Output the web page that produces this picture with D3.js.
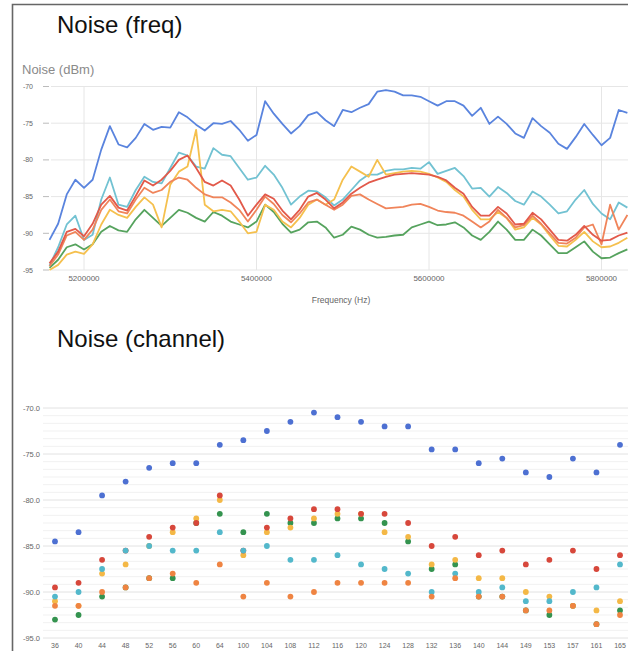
<!DOCTYPE html>
<html>
<head>
<meta charset="utf-8">
<script src="https://cdn.jsdelivr.net/npm/d3@7/dist/d3.min.js"></script>
<style>
  html, body { margin: 0; padding: 0; background: #fff; }
  svg { display: block; font-family: "Liberation Sans", Arial, Helvetica, sans-serif; }
</style>
</head>
<body>
<svg id="chart" width="628" height="651"></svg>
<script>
// ---- Noise (freq): sampled frequencies (Hz) ----
const freqs = [
  5160000, 5170000, 5180000, 5190000, 5200000, 5210000, 5220000, 5230000, 5240000, 5250000,
  5260000, 5270000, 5280000, 5290000, 5300000, 5310000, 5320000, 5330000, 5340000, 5350000,
  5360000, 5370000, 5380000, 5390000, 5400000, 5410000, 5420000, 5430000, 5440000, 5450000,
  5460000, 5470000, 5480000, 5490000, 5500000, 5510000, 5520000, 5530000, 5540000, 5550000,
  5560000, 5570000, 5580000, 5590000, 5600000, 5610000, 5620000, 5630000, 5640000, 5650000,
  5660000, 5670000, 5680000, 5690000, 5700000, 5710000, 5720000, 5730000, 5740000, 5750000,
  5760000, 5770000, 5780000, 5790000, 5800000, 5810000, 5820000, 5830000
];

// noise level per sampled frequency (dBm)
const freqBlue = [
  -90.9, -88.7, -84.7, -82.7, -83.8, -82.7, -78.6, -75.4, -77.9, -78.3,
  -77.0, -75.1, -75.9, -75.5, -75.6, -73.5, -74.2, -75.2, -76.0, -75.0,
  -75.1, -74.7, -75.9, -77.4, -76.6, -72.0, -73.7, -75.1, -76.4, -75.4,
  -73.9, -73.5, -74.6, -75.4, -73.2, -73.5, -72.9, -72.4, -70.7, -70.5,
  -70.7, -71.2, -71.2, -71.4, -72.0, -72.6, -72.0, -72.0, -72.6, -74.0,
  -72.9, -75.1, -74.1, -75.1, -76.4, -77.0, -74.3, -75.4, -76.3, -77.8,
  -78.5, -76.9, -75.1, -76.6, -78.0, -77.0, -73.2, -73.6
];
const freqTeal = [
  -94.4, -91.9, -88.8, -87.6, -90.9, -90.2, -85.4, -82.4, -86.1, -86.4,
  -84.1, -82.3, -83.0, -83.2, -81.1, -79.0, -79.4, -80.9, -81.2, -78.4,
  -79.3, -79.5, -81.1, -82.7, -82.4, -80.8, -82.0, -83.8, -86.1, -85.0,
  -84.2, -84.3, -85.1, -86.2, -85.4, -84.1, -82.8, -82.0, -82.0, -81.5,
  -81.3, -81.3, -81.1, -81.2, -80.3, -81.9, -81.5, -81.1, -82.2, -83.9,
  -83.8, -85.0, -83.7, -84.5, -85.6, -86.1, -84.3, -85.0, -86.1, -87.3,
  -87.0, -85.4, -84.1, -86.0, -87.3, -88.1, -85.8, -86.5
];
const freqRed = [
  -94.1, -92.5, -89.8, -89.4, -90.4, -88.7, -86.1, -84.9, -86.5, -86.9,
  -84.9, -82.8, -83.5, -82.7, -81.5, -80.0, -79.4, -81.1, -83.0, -83.5,
  -82.8, -83.5, -85.4, -87.6, -86.1, -84.7, -85.3, -86.9, -88.1, -86.8,
  -85.0, -84.5, -85.4, -86.6, -85.8, -84.6, -83.8, -83.1, -82.7, -82.3,
  -82.0, -81.9, -81.8, -81.9, -82.0, -82.3, -82.8, -83.8, -84.6, -86.4,
  -87.6, -87.6, -86.4, -87.3, -88.8, -88.7, -87.2, -88.1, -89.5, -90.9,
  -91.0, -90.2, -89.0, -90.2, -91.0, -90.9, -90.3, -89.9
];
const freqOrange = [
  -94.5, -92.9, -90.3, -89.8, -90.9, -89.5, -86.8, -85.4, -87.0, -87.3,
  -85.4, -83.8, -84.5, -84.1, -83.0, -82.4, -82.7, -83.8, -84.7, -85.1,
  -85.1, -85.8, -86.8, -88.4, -86.8, -85.0, -86.0, -87.5, -88.5, -87.3,
  -85.8, -85.4, -86.1, -86.8, -86.1, -84.9, -84.7, -85.4, -86.0, -86.6,
  -86.5, -86.4, -86.1, -86.0, -86.4, -86.9, -87.1, -87.2, -87.6, -88.4,
  -89.2, -88.4, -86.8, -87.9, -89.2, -88.9, -87.6, -88.7, -90.0, -91.3,
  -91.4, -90.6, -89.2, -88.8, -91.5, -86.1, -89.5, -87.5
];
const freqYellow = [
  -95.0, -94.3, -92.9, -92.5, -92.8, -91.5, -88.8, -86.8, -87.5, -87.9,
  -86.4, -85.1, -86.1, -89.2, -83.4, -81.6, -80.9, -75.9, -86.1, -87.0,
  -86.8, -87.0, -88.4, -90.0, -89.8, -86.1, -86.8, -88.4, -89.2, -87.9,
  -86.1, -85.4, -86.1, -85.4, -82.7, -80.9, -81.6, -82.3, -80.0, -82.0,
  -81.8, -81.6, -81.5, -81.6, -81.9, -82.4, -83.0, -84.1, -85.0, -86.8,
  -88.1, -88.1, -87.1, -87.9, -89.5, -89.2, -87.9, -88.8, -90.3, -91.7,
  -91.8, -90.9, -89.8, -91.1, -91.9, -91.8, -91.3, -90.6
];
const freqGreen = [
  -94.7, -93.6, -91.9, -91.5, -92.2, -91.5, -89.8, -89.0, -89.6, -89.8,
  -88.1, -86.8, -87.9, -89.0, -87.9, -86.8, -87.2, -87.9, -88.4, -87.1,
  -87.6, -88.4, -88.8, -89.2, -88.4, -86.1, -87.1, -88.7, -89.9, -89.5,
  -88.5, -88.4, -89.2, -90.6, -90.2, -89.1, -89.5, -90.2, -90.6, -90.5,
  -90.3, -90.2, -89.2, -88.8, -88.4, -88.9, -88.8, -88.5, -89.2, -90.3,
  -90.9, -89.8, -88.4, -89.5, -90.9, -90.9, -89.5, -90.3, -91.5, -92.7,
  -92.7, -91.9, -91.1, -92.5, -93.4, -93.3, -92.7, -92.2
];
const freqTicks = [5200000, 5400000, 5600000, 5800000];
const dbmTicksFreq = [-70, -75, -80, -85, -90, -95];

// ---- Noise (channel) ----
const channels = [36, 40, 44, 48, 52, 56, 60, 64, 100, 104, 108, 112, 116, 120, 124, 128, 132, 136, 140, 144, 149, 153, 157, 161, 165];
const chBlue   = [-84.5, -83.5, -79.5, -78.0, -76.5, -76.0, -76.0, -74.0, -73.5, -72.5, -71.5, -70.5, -71.0, -71.5, -72.0, -72.0, -74.5, -74.5, -76.0, -75.5, -77.0, -77.5, -75.5, -77.0, -74.0];
const chGreen  = [-93.0, -92.5, -90.5, -89.5, -88.5, -88.5, -82.5, -81.5, -83.5, -81.5, -82.5, -82.5, -82.0, -82.0, -82.5, -84.5, -87.5, -87.0, -90.5, -90.5, -92.0, -92.5, -91.5, -93.5, -92.0];
const chYellow = [-91.0, -91.5, -88.0, -87.0, -85.0, -83.5, -82.0, -80.0, -86.0, -83.5, -83.0, -82.0, -81.5, -81.5, -83.5, -84.0, -87.0, -86.5, -88.5, -88.5, -90.0, -90.5, -91.5, -92.0, -91.0];
const chRed    = [-89.5, -89.0, -86.5, -85.5, -84.0, -83.0, -82.5, -79.5, -85.5, -83.0, -82.0, -81.0, -81.0, -81.5, -81.5, -82.5, -85.0, -84.0, -86.0, -85.5, -87.0, -86.5, -85.5, -87.5, -86.0];
const chTeal   = [-90.5, -90.0, -87.5, -85.5, -85.0, -85.5, -85.5, -83.5, -85.5, -85.0, -86.5, -86.5, -86.0, -87.0, -87.5, -88.0, -90.0, -88.0, -90.0, -89.5, -91.0, -91.0, -90.0, -89.5, -87.0];
const chOrange = [-91.5, -91.5, -90.0, -89.5, -88.5, -88.0, -89.0, -87.0, -90.5, -89.0, -90.5, -90.0, -89.0, -89.0, -89.0, -89.0, -90.5, -88.5, -90.5, -90.5, -92.0, -92.0, -91.5, -93.5, -92.5];
const dbmTicksChannel = [-70, -75, -80, -85, -90, -95];

const svg = d3.select("#chart");
const W = 628;

// outer frame
svg.append("path")
  .attr("d", `M12.5,651 V4.5 H${W}`)
  .attr("fill", "none").attr("stroke", "#666").attr("stroke-width", 1.6);

// ================= Noise (freq) =================
const fx = d3.scaleLinear().domain([5200000, 5800000]).range([84, 601.5]);
const fy = d3.scaleLinear().domain([-95, -70]).range([270, 86.5]);

svg.append("text").attr("x", 57).attr("y", 33)
  .attr("font-size", 24).attr("fill", "#111").text("Noise (freq)");
svg.append("text").attr("x", 22).attr("y", 74)
  .attr("font-size", 13).attr("fill", "#8a8a8a").text("Noise (dBm)");

const gTop = svg.append("g");
// horizontal grid + tick dashes + labels
gTop.selectAll(".hg").data(dbmTicksFreq).join("line")
  .attr("x1", 51).attr("x2", W).attr("y1", d => fy(d)).attr("y2", d => fy(d))
  .attr("stroke", "#e6e6e6").attr("stroke-width", 1);
gTop.selectAll(".tk").data(dbmTicksFreq).join("line")
  .attr("x1", 43).attr("x2", 49).attr("y1", d => fy(d)).attr("y2", d => fy(d))
  .attr("stroke", "#bbb").attr("stroke-width", 1);
gTop.selectAll(".yl").data(dbmTicksFreq).join("text")
  .attr("x", 33).attr("y", d => fy(d) + 2.5).attr("text-anchor", "end")
  .attr("font-size", 7).attr("fill", "#666").text(d => d);
// vertical grid + labels
gTop.selectAll(".vg").data(freqTicks).join("line")
  .attr("x1", d => fx(d)).attr("x2", d => fx(d)).attr("y1", 86.5).attr("y2", 270)
  .attr("stroke", "#e6e6e6").attr("stroke-width", 1);
gTop.selectAll(".xl").data(freqTicks).join("text")
  .attr("x", d => fx(d)).attr("y", 281).attr("text-anchor", "middle")
  .attr("font-size", 8).attr("fill", "#666").text(d => d);
svg.append("text").attr("x", 341).attr("y", 303).attr("text-anchor", "middle")
  .attr("font-size", 8.5).attr("fill", "#666").text("Frequency (Hz)");

const freqSeries = [
  { name: "blue",   values: freqBlue,   color: "#5a84de" },
  { name: "teal",   values: freqTeal,   color: "#72c2d2" },
  { name: "green",  values: freqGreen,  color: "#56a35e" },
  { name: "yellow", values: freqYellow, color: "#f5c04e" },
  { name: "orange", values: freqOrange, color: "#f0845a" },
  { name: "red",    values: freqRed,    color: "#e2594a" }
];
const line = d3.line().x((d, i) => fx(freqs[i])).y(d => fy(d)).curve(d3.curveLinear);
gTop.selectAll(".series").data(freqSeries).join("path")
  .attr("d", d => line(d.values))
  .attr("fill", "none").attr("stroke", d => d.color)
  .attr("stroke-width", 1.8).attr("stroke-linejoin", "round");

// ================= Noise (channel) =================
const cx = d3.scalePoint().domain(channels).range([55, 620]);
const cy = d3.scaleLinear().domain([-95, -70]).range([638, 408]);

svg.append("text").attr("x", 57).attr("y", 347)
  .attr("font-size", 24).attr("fill", "#111").text("Noise (channel)");

const gBot = svg.append("g");
// minor gridlines: five between each pair of labelled lines
const minorVals = [];
dbmTicksChannel.slice(0, -1).forEach(v => {
  for (let k = 1; k < 6; k++) minorVals.push(v - k * 5 / 6);
});
gBot.selectAll(".mg").data(minorVals).join("line")
  .attr("x1", 43).attr("x2", W).attr("y1", d => cy(d)).attr("y2", d => cy(d))
  .attr("stroke", "#f1f1f1").attr("stroke-width", 1);
gBot.selectAll(".hg").data(dbmTicksChannel).join("line")
  .attr("x1", 43).attr("x2", W).attr("y1", d => cy(d)).attr("y2", d => cy(d))
  .attr("stroke", "#e2e2e2").attr("stroke-width", 1);
gBot.selectAll(".yl").data(dbmTicksChannel).join("text")
  .attr("x", 40).attr("y", d => cy(d) + 2.5).attr("text-anchor", "end")
  .attr("font-size", 7.5).attr("fill", "#666").text(d => d.toFixed(1));
gBot.selectAll(".xl").data(channels).join("text")
  .attr("x", d => cx(d)).attr("y", 648).attr("text-anchor", "middle")
  .attr("font-size", 7).attr("fill", "#666").text(d => d);

const chSeries = [
  { name: "blue",   values: chBlue,   color: "#4d70d2" },
  { name: "green",  values: chGreen,  color: "#34934f" },
  { name: "yellow", values: chYellow, color: "#f4b846" },
  { name: "red",    values: chRed,    color: "#d7473b" },
  { name: "teal",   values: chTeal,   color: "#53b8cb" },
  { name: "orange", values: chOrange, color: "#ef8442" }
];
chSeries.forEach(s => {
  gBot.append("g").selectAll("circle").data(s.values).join("circle")
    .attr("cx", (d, i) => cx(channels[i]))
    .attr("cy", d => cy(d))
    .attr("r", 2.9)
    .attr("fill", s.color);
});
</script>
</body>
</html>
